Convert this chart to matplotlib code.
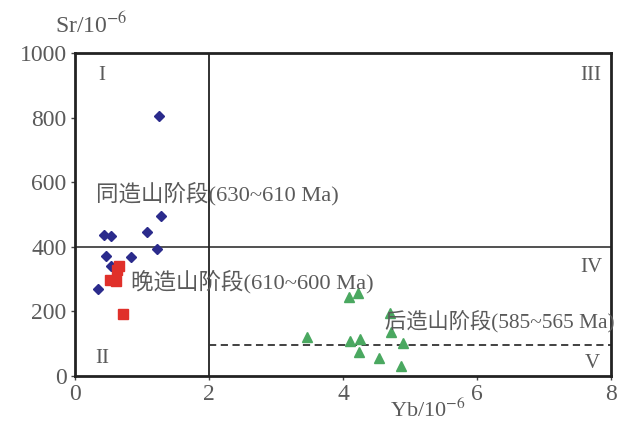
import matplotlib
matplotlib.use("Agg")
import matplotlib.pyplot as plt

plt.rcParams['font.family'] = ['Liberation Serif', 'Noto Sans CJK SC', 'DejaVu Sans']
plt.rcParams['mathtext.fontset'] = 'stix'

# Data
syn_yb = [1.26, 1.29, 0.43, 0.53, 1.08, 1.22, 0.47, 0.83, 0.53, 0.34]
syn_sr = [805, 495, 436, 433, 446, 393, 372, 368, 340, 269]
late_yb = [0.65, 0.62, 0.52, 0.61, 0.71]
late_sr = [340, 328, 297, 294, 192]
post_yb = [4.09, 4.22, 3.46, 4.70, 4.72, 4.10, 4.25, 4.90, 4.24, 4.53, 4.86]
post_sr = [245, 257, 121, 195, 136, 108, 115, 102, 74, 56, 31]

x_ticks = [0, 2, 4, 6, 8]
y_ticks = [0, 200, 400, 600, 800, 1000]
yb_div = 2
sr_div = 400
sr_dash = 95

gray = '#5a5a5a'

fig = plt.figure(figsize=(6.27, 4.21), dpi=100)
ax = fig.add_axes([75/627, 1-376/421, (611-75)/627, (376-53)/421])
ax.set_xlim(0, 8)
ax.set_ylim(0, 1000)

ax.plot([yb_div, yb_div], [0, 1000], color='#222222', lw=1.3, zorder=1)
ax.plot([0, 8], [sr_div, sr_div], color='#222222', lw=1.1, zorder=1)
ax.plot([yb_div, 8], [sr_dash, sr_dash], color='#333333', lw=1.3, ls=(0, (4, 2.5)), zorder=1)

ax.plot(syn_yb, syn_sr, 'D', color='#2b2b8c', ms=5.5, mec='#2b2b8c', zorder=3)
ax.plot(late_yb, late_sr, 's', color='#e0302a', ms=7, mec='#e0302a', zorder=3)
ax.plot(post_yb, post_sr, '^', color='#4aa860', ms=7, mec='#4aa860', zorder=3)

for s in ax.spines.values():
    s.set_linewidth(2)
    s.set_color('#222222')

ax.set_xticks(x_ticks)
ax.set_yticks(y_ticks)
ax.tick_params(direction='out', length=3, width=1, colors='#444444', labelsize=17, pad=3)
for lab in ax.get_xticklabels() + ax.get_yticklabels():
    lab.set_color(gray)

fs = 15
ax.text(0.40, 930, 'I', fontsize=fs, color=gray, ha='center', va='center')
ax.text(0.40, 55, 'II', fontsize=fs, color=gray, ha='center', va='center')
ax.text(7.70, 930, 'III', fontsize=fs, color=gray, ha='center', va='center')
ax.text(7.70, 335, 'IV', fontsize=fs, color=gray, ha='center', va='center')
ax.text(7.72, 40, 'V', fontsize=fs, color=gray, ha='center', va='center')

ax.text(0.32, 565, '同造山阶段(630~610 Ma)', fontsize=16.2, color=gray, va='center', ha='left')
ax.text(0.84, 293, '晚造山阶段(610~600 Ma)', fontsize=16.2, color=gray, va='center', ha='left')
ax.text(4.62, 166, '后造山阶段(585~565 Ma)', fontsize=15.3, color=gray, va='center', ha='left')

fig.text(55/627, 1-25/421, r'Sr/10$^{-6}$', fontsize=17, color=gray, ha='left', va='center')
fig.text(428/627, 1-410/421, r'Yb/10$^{-6}$', fontsize=16, color=gray, ha='center', va='center')

fig.savefig('out.png', dpi=100, facecolor='white')
